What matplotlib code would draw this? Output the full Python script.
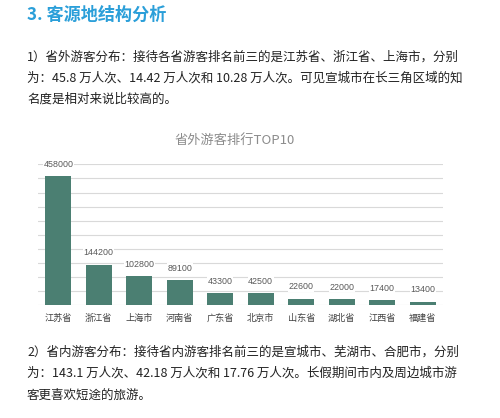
import matplotlib
matplotlib.use("Agg")
import matplotlib.pyplot as plt

plt.rcParams['font.family'] = ['Noto Sans CJK SC', 'DejaVu Sans']

categories = ["江苏省", "浙江省", "上海市", "河南省", "广东省", "北京市", "山东省", "湖北省", "江西省", "福建省"]
values = [458000, 144200, 102800, 89100, 43300, 42500, 22600, 22000, 17400, 13400]

heading = "3. 客源地结构分析"
para1 = ["1）省外游客分布：接待各省游客排名前三的是江苏省、浙江省、上海市，分别",
         "为：45.8 万人次、14.42 万人次和 10.28 万人次。可见宣城市在长三角区域的知",
         "名度是相对来说比较高的。"]
para2 = ["2）省内游客分布：接待省内游客排名前三的是宣城市、芜湖市、合肥市，分别",
         "为：143.1 万人次、42.18 万人次和 17.76 万人次。长假期间市内及周边城市游",
         "客更喜欢短途的旅游。"]
chart_title = "省外游客排行TOP10"

W, H = 500, 418
fig = plt.figure(figsize=(W / 100, H / 100), dpi=100)

def fy(y):
    return 1 - y / H

fig.text(27 / W, fy(15), heading, color="#2b9fd9", fontsize=12.3, fontweight="bold", va="center", ha="left")
for y, line in zip([57, 78, 99], para1):
    fig.text(27 / W, fy(y), line, color="#222222", fontsize=9.0, va="center", ha="left")
for y, line in zip([352, 373, 395], para2):
    fig.text(27 / W, fy(y), line, color="#222222", fontsize=9.0, va="center", ha="left")

ax = fig.add_axes([38 / W, 1 - 305.3 / H, 405 / W, 141 / H])
x = list(range(len(categories)))
ax.bar(x, values, width=0.64, color="#4b7f72", zorder=2)
ax.set_xlim(-0.5, len(categories) - 0.5)
ax.set_ylim(0, 500000)
ax.set_yticks(range(0, 500001, 50000))
ax.yaxis.grid(True, color="#d9d9d9", linewidth=0.8, zorder=0)
ax.set_yticklabels([])
ax.tick_params(axis="y", length=0)
ax.tick_params(axis="x", length=0, pad=6)
ax.set_xticks(x)
ax.set_xticklabels(categories, fontsize=6.6, color="#404040")
for s in ax.spines.values():
    s.set_visible(False)
ax.set_axisbelow(True)

for xi, v in zip(x, values):
    ax.annotate(f"{v}", (xi, v), xytext=(0, 8.6), textcoords="offset points",
                ha="center", va="center", fontsize=6.4, color="#595959",
                family=["Liberation Sans", "DejaVu Sans"],
                bbox=dict(facecolor="white", edgecolor="none", pad=0.5), zorder=3)

fig.text(235 / W, fy(140), chart_title, color="#8c8c8c", fontsize=9.5, ha="center", va="center")

fig.savefig("out.png", dpi=100)
